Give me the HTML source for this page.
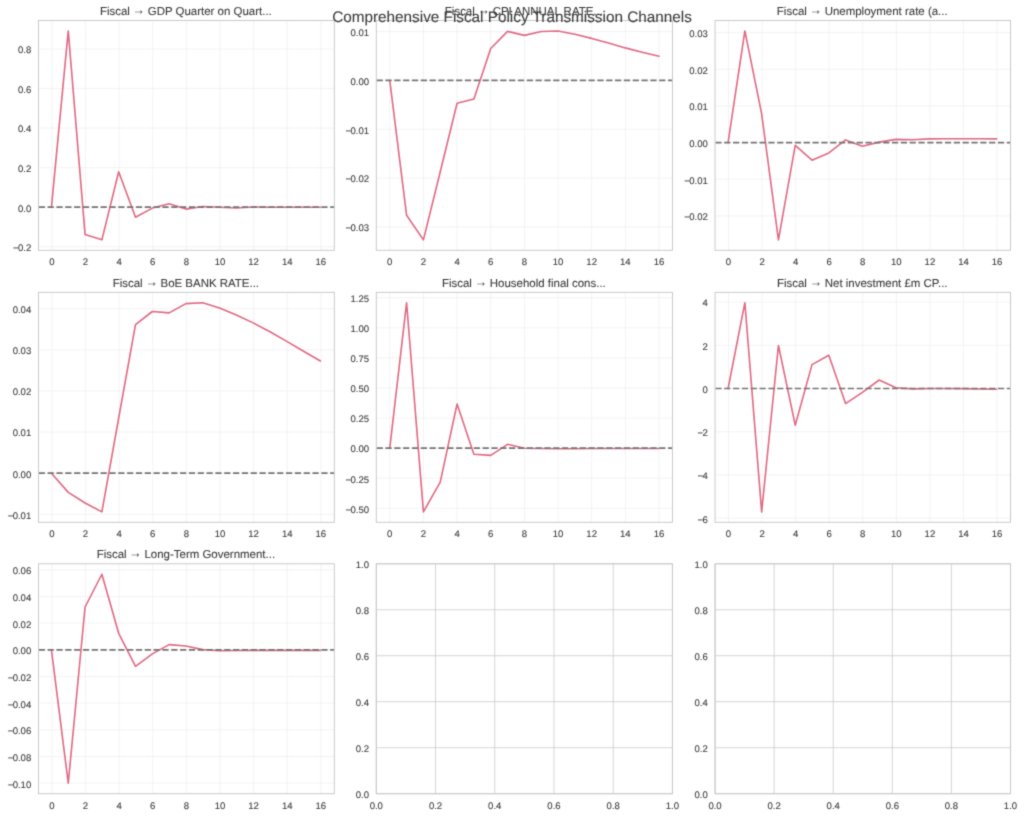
<!DOCTYPE html>
<html lang="en"><head><meta charset="utf-8"><title>Comprehensive Fiscal Policy Transmission Channels</title>
<style>html,body{margin:0;padding:0;background:#fff;}
body{width:1024px;height:817px;overflow:hidden;}
svg{display:block;}
text{font-family:"Liberation Sans", Arial, sans-serif;fill:#3c3c3c;stroke:#3c3c3c;stroke-width:0.1px;text-rendering:geometricPrecision;}
.tk{font-size:9.56px;}
.ti{font-size:11.47px;}
.sup{font-size:15.3px;}</style></head>
<body>
<svg width="1024" height="817" viewBox="0 0 1024 817">
<defs><filter id="soft" filterUnits="userSpaceOnUse" x="0" y="0" width="1024" height="817" color-interpolation-filters="sRGB"><feConvolveMatrix order="3" kernelMatrix="0.025 0.1 0.025 0.1 0.5 0.1 0.025 0.1 0.025" divisor="1" edgeMode="duplicate" preserveAlpha="true"/></filter></defs>
<g filter="url(#soft)">
<rect x="0" y="0" width="1024" height="817" fill="#ffffff"/>
<g><line x1="51.9" y1="20.5" x2="51.9" y2="250.3" stroke="#efefef" stroke-width="0.77"/>
<line x1="85.52" y1="20.5" x2="85.52" y2="250.3" stroke="#efefef" stroke-width="0.77"/>
<line x1="119.14" y1="20.5" x2="119.14" y2="250.3" stroke="#efefef" stroke-width="0.77"/>
<line x1="152.76" y1="20.5" x2="152.76" y2="250.3" stroke="#efefef" stroke-width="0.77"/>
<line x1="186.38" y1="20.5" x2="186.38" y2="250.3" stroke="#efefef" stroke-width="0.77"/>
<line x1="219.99" y1="20.5" x2="219.99" y2="250.3" stroke="#efefef" stroke-width="0.77"/>
<line x1="253.61" y1="20.5" x2="253.61" y2="250.3" stroke="#efefef" stroke-width="0.77"/>
<line x1="287.23" y1="20.5" x2="287.23" y2="250.3" stroke="#efefef" stroke-width="0.77"/>
<line x1="320.85" y1="20.5" x2="320.85" y2="250.3" stroke="#efefef" stroke-width="0.77"/>
<line x1="38.45" y1="246.74" x2="334.3" y2="246.74" stroke="#efefef" stroke-width="0.77"/>
<line x1="38.45" y1="207.2" x2="334.3" y2="207.2" stroke="#efefef" stroke-width="0.77"/>
<line x1="38.45" y1="167.66" x2="334.3" y2="167.66" stroke="#efefef" stroke-width="0.77"/>
<line x1="38.45" y1="128.12" x2="334.3" y2="128.12" stroke="#efefef" stroke-width="0.77"/>
<line x1="38.45" y1="88.58" x2="334.3" y2="88.58" stroke="#efefef" stroke-width="0.77"/>
<line x1="38.45" y1="49.04" x2="334.3" y2="49.04" stroke="#efefef" stroke-width="0.77"/>
<polyline points="51.45,207.2 68.26,30.95 85.07,234.6 101.88,239.85 118.69,171.8 135.5,217.2 152.31,208.1 169.12,203.7 185.92,209.1 202.73,206.5 219.54,207.2 236.35,208 253.16,207 269.97,207.2 286.78,207.2 303.59,207.2 320.4,207.2" fill="none" stroke="#e06882" stroke-width="1.6" stroke-linejoin="round" stroke-linecap="round"/>
<line x1="38.45" y1="207.2" x2="334.3" y2="207.2" stroke="#747474" stroke-width="1.67" stroke-dasharray="6.16 2.67" stroke-dashoffset="-0.35"/>
<rect x="38.45" y="20.5" width="295.85" height="229.8" fill="none" stroke="#c8c8c8" stroke-width="0.96"/>
<text x="51.9" y="265.3" text-anchor="middle" class="tk">0</text>
<text x="85.52" y="265.3" text-anchor="middle" class="tk">2</text>
<text x="119.14" y="265.3" text-anchor="middle" class="tk">4</text>
<text x="152.76" y="265.3" text-anchor="middle" class="tk">6</text>
<text x="186.38" y="265.3" text-anchor="middle" class="tk">8</text>
<text x="219.99" y="265.3" text-anchor="middle" class="tk">10</text>
<text x="253.61" y="265.3" text-anchor="middle" class="tk">12</text>
<text x="287.23" y="265.3" text-anchor="middle" class="tk">14</text>
<text x="320.85" y="265.3" text-anchor="middle" class="tk">16</text>
<text x="31.25" y="251.09" text-anchor="end" class="tk">−<tspan dx="-0.6">0.2</tspan></text>
<text x="31.25" y="211.55" text-anchor="end" class="tk">0.0</text>
<text x="31.25" y="172.01" text-anchor="end" class="tk">0.2</text>
<text x="31.25" y="132.47" text-anchor="end" class="tk">0.4</text>
<text x="31.25" y="92.93" text-anchor="end" class="tk">0.6</text>
<text x="31.25" y="53.39" text-anchor="end" class="tk">0.8</text>
<text x="185.88" y="14.9" text-anchor="middle" class="ti">Fiscal <tspan dx="-0.46" dy="-1.25" style="font-size:12.4px">→</tspan><tspan dx="-0.47" dy="1.25"> GDP Quarter on Quart...</tspan></text></g>
<g><line x1="389.76" y1="20.5" x2="389.76" y2="250.3" stroke="#efefef" stroke-width="0.77"/>
<line x1="423.41" y1="20.5" x2="423.41" y2="250.3" stroke="#efefef" stroke-width="0.77"/>
<line x1="457.07" y1="20.5" x2="457.07" y2="250.3" stroke="#efefef" stroke-width="0.77"/>
<line x1="490.72" y1="20.5" x2="490.72" y2="250.3" stroke="#efefef" stroke-width="0.77"/>
<line x1="524.38" y1="20.5" x2="524.38" y2="250.3" stroke="#efefef" stroke-width="0.77"/>
<line x1="558.03" y1="20.5" x2="558.03" y2="250.3" stroke="#efefef" stroke-width="0.77"/>
<line x1="591.68" y1="20.5" x2="591.68" y2="250.3" stroke="#efefef" stroke-width="0.77"/>
<line x1="625.34" y1="20.5" x2="625.34" y2="250.3" stroke="#efefef" stroke-width="0.77"/>
<line x1="658.99" y1="20.5" x2="658.99" y2="250.3" stroke="#efefef" stroke-width="0.77"/>
<line x1="376.3" y1="226.99" x2="672.45" y2="226.99" stroke="#efefef" stroke-width="0.77"/>
<line x1="376.3" y1="178.14" x2="672.45" y2="178.14" stroke="#efefef" stroke-width="0.77"/>
<line x1="376.3" y1="129.29" x2="672.45" y2="129.29" stroke="#efefef" stroke-width="0.77"/>
<line x1="376.3" y1="80.44" x2="672.45" y2="80.44" stroke="#efefef" stroke-width="0.77"/>
<line x1="376.3" y1="31.59" x2="672.45" y2="31.59" stroke="#efefef" stroke-width="0.77"/>
<polyline points="389.76,80.44 406.59,215.3 423.41,239.85 440.24,171.8 457.07,103.3 473.89,99 490.72,48.5 507.55,31.4 524.38,35.4 541.2,31.5 558.03,30.95 574.86,34.2 591.68,38.4 608.51,43.1 625.34,47.9 642.16,52.2 658.99,56.3" fill="none" stroke="#e06882" stroke-width="1.6" stroke-linejoin="round" stroke-linecap="round"/>
<line x1="376.3" y1="80.44" x2="672.45" y2="80.44" stroke="#747474" stroke-width="1.67" stroke-dasharray="6.16 2.67" stroke-dashoffset="-0.35"/>
<rect x="376.3" y="20.5" width="296.15" height="229.8" fill="none" stroke="#c8c8c8" stroke-width="0.96"/>
<text x="389.76" y="265.3" text-anchor="middle" class="tk">0</text>
<text x="423.41" y="265.3" text-anchor="middle" class="tk">2</text>
<text x="457.07" y="265.3" text-anchor="middle" class="tk">4</text>
<text x="490.72" y="265.3" text-anchor="middle" class="tk">6</text>
<text x="524.38" y="265.3" text-anchor="middle" class="tk">8</text>
<text x="558.03" y="265.3" text-anchor="middle" class="tk">10</text>
<text x="591.68" y="265.3" text-anchor="middle" class="tk">12</text>
<text x="625.34" y="265.3" text-anchor="middle" class="tk">14</text>
<text x="658.99" y="265.3" text-anchor="middle" class="tk">16</text>
<text x="369.1" y="231.34" text-anchor="end" class="tk">−<tspan dx="-0.6">0.03</tspan></text>
<text x="369.1" y="182.49" text-anchor="end" class="tk">−<tspan dx="-0.6">0.02</tspan></text>
<text x="369.1" y="133.64" text-anchor="end" class="tk">−<tspan dx="-0.6">0.01</tspan></text>
<text x="369.1" y="84.79" text-anchor="end" class="tk">0.00</text>
<text x="369.1" y="35.94" text-anchor="end" class="tk">0.01</text>
<text x="523.88" y="14.9" text-anchor="middle" class="ti">Fiscal <tspan dx="-0.46" dy="-1.25" style="font-size:12.4px">→</tspan><tspan dx="-0.47" dy="1.25"> CPI ANNUAL RATE...</tspan></text></g>
<g><line x1="728.48" y1="20.5" x2="728.48" y2="250.3" stroke="#efefef" stroke-width="0.77"/>
<line x1="762.05" y1="20.5" x2="762.05" y2="250.3" stroke="#efefef" stroke-width="0.77"/>
<line x1="795.63" y1="20.5" x2="795.63" y2="250.3" stroke="#efefef" stroke-width="0.77"/>
<line x1="829.2" y1="20.5" x2="829.2" y2="250.3" stroke="#efefef" stroke-width="0.77"/>
<line x1="862.77" y1="20.5" x2="862.77" y2="250.3" stroke="#efefef" stroke-width="0.77"/>
<line x1="896.35" y1="20.5" x2="896.35" y2="250.3" stroke="#efefef" stroke-width="0.77"/>
<line x1="929.92" y1="20.5" x2="929.92" y2="250.3" stroke="#efefef" stroke-width="0.77"/>
<line x1="963.5" y1="20.5" x2="963.5" y2="250.3" stroke="#efefef" stroke-width="0.77"/>
<line x1="997.07" y1="20.5" x2="997.07" y2="250.3" stroke="#efefef" stroke-width="0.77"/>
<line x1="715.05" y1="215.85" x2="1010.5" y2="215.85" stroke="#efefef" stroke-width="0.77"/>
<line x1="715.05" y1="179.21" x2="1010.5" y2="179.21" stroke="#efefef" stroke-width="0.77"/>
<line x1="715.05" y1="142.56" x2="1010.5" y2="142.56" stroke="#efefef" stroke-width="0.77"/>
<line x1="715.05" y1="105.91" x2="1010.5" y2="105.91" stroke="#efefef" stroke-width="0.77"/>
<line x1="715.05" y1="69.27" x2="1010.5" y2="69.27" stroke="#efefef" stroke-width="0.77"/>
<line x1="715.05" y1="32.62" x2="1010.5" y2="32.62" stroke="#efefef" stroke-width="0.77"/>
<polyline points="728.08,142.56 744.87,30.95 761.65,113.9 778.44,239.85 795.23,145.3 812.01,160.2 828.8,152.9 845.59,139.9 862.38,146.2 879.16,142.1 895.95,139.4 912.74,139.8 929.52,138.9 946.31,138.7 963.1,138.7 979.88,138.7 996.67,138.9" fill="none" stroke="#e06882" stroke-width="1.6" stroke-linejoin="round" stroke-linecap="round"/>
<line x1="715.05" y1="142.56" x2="1010.5" y2="142.56" stroke="#747474" stroke-width="1.67" stroke-dasharray="6.16 2.67" stroke-dashoffset="-0.35"/>
<rect x="715.05" y="20.5" width="295.45" height="229.8" fill="none" stroke="#c8c8c8" stroke-width="0.96"/>
<text x="728.48" y="265.3" text-anchor="middle" class="tk">0</text>
<text x="762.05" y="265.3" text-anchor="middle" class="tk">2</text>
<text x="795.63" y="265.3" text-anchor="middle" class="tk">4</text>
<text x="829.2" y="265.3" text-anchor="middle" class="tk">6</text>
<text x="862.77" y="265.3" text-anchor="middle" class="tk">8</text>
<text x="896.35" y="265.3" text-anchor="middle" class="tk">10</text>
<text x="929.92" y="265.3" text-anchor="middle" class="tk">12</text>
<text x="963.5" y="265.3" text-anchor="middle" class="tk">14</text>
<text x="997.07" y="265.3" text-anchor="middle" class="tk">16</text>
<text x="707.85" y="220.2" text-anchor="end" class="tk">−<tspan dx="-0.6">0.02</tspan></text>
<text x="707.85" y="183.56" text-anchor="end" class="tk">−<tspan dx="-0.6">0.01</tspan></text>
<text x="707.85" y="146.91" text-anchor="end" class="tk">0.00</text>
<text x="707.85" y="110.26" text-anchor="end" class="tk">0.01</text>
<text x="707.85" y="73.62" text-anchor="end" class="tk">0.02</text>
<text x="707.85" y="36.97" text-anchor="end" class="tk">0.03</text>
<text x="862.27" y="14.9" text-anchor="middle" class="ti">Fiscal <tspan dx="-0.46" dy="-1.25" style="font-size:12.4px">→</tspan><tspan dx="-0.47" dy="1.25"> Unemployment rate (a...</tspan></text></g>
<g><line x1="51.9" y1="292.35" x2="51.9" y2="522.3" stroke="#efefef" stroke-width="0.77"/>
<line x1="85.52" y1="292.35" x2="85.52" y2="522.3" stroke="#efefef" stroke-width="0.77"/>
<line x1="119.14" y1="292.35" x2="119.14" y2="522.3" stroke="#efefef" stroke-width="0.77"/>
<line x1="152.76" y1="292.35" x2="152.76" y2="522.3" stroke="#efefef" stroke-width="0.77"/>
<line x1="186.38" y1="292.35" x2="186.38" y2="522.3" stroke="#efefef" stroke-width="0.77"/>
<line x1="219.99" y1="292.35" x2="219.99" y2="522.3" stroke="#efefef" stroke-width="0.77"/>
<line x1="253.61" y1="292.35" x2="253.61" y2="522.3" stroke="#efefef" stroke-width="0.77"/>
<line x1="287.23" y1="292.35" x2="287.23" y2="522.3" stroke="#efefef" stroke-width="0.77"/>
<line x1="320.85" y1="292.35" x2="320.85" y2="522.3" stroke="#efefef" stroke-width="0.77"/>
<line x1="38.45" y1="514.32" x2="334.3" y2="514.32" stroke="#efefef" stroke-width="0.77"/>
<line x1="38.45" y1="473.2" x2="334.3" y2="473.2" stroke="#efefef" stroke-width="0.77"/>
<line x1="38.45" y1="432.08" x2="334.3" y2="432.08" stroke="#efefef" stroke-width="0.77"/>
<line x1="38.45" y1="390.96" x2="334.3" y2="390.96" stroke="#efefef" stroke-width="0.77"/>
<line x1="38.45" y1="349.84" x2="334.3" y2="349.84" stroke="#efefef" stroke-width="0.77"/>
<line x1="38.45" y1="308.72" x2="334.3" y2="308.72" stroke="#efefef" stroke-width="0.77"/>
<polyline points="51.45,473.2 68.26,492.4 85.07,503 101.88,511.85 118.69,418 135.5,324.6 152.31,311.5 169.12,312.9 185.92,303.6 202.73,302.8 219.54,308.1 236.35,315 253.16,322.9 269.97,331.7 286.78,341.4 303.59,351.2 320.4,361" fill="none" stroke="#e06882" stroke-width="1.6" stroke-linejoin="round" stroke-linecap="round"/>
<line x1="38.45" y1="473.2" x2="334.3" y2="473.2" stroke="#747474" stroke-width="1.67" stroke-dasharray="6.16 2.67" stroke-dashoffset="-0.35"/>
<rect x="38.45" y="292.35" width="295.85" height="229.95" fill="none" stroke="#c8c8c8" stroke-width="0.96"/>
<text x="51.9" y="537.3" text-anchor="middle" class="tk">0</text>
<text x="85.52" y="537.3" text-anchor="middle" class="tk">2</text>
<text x="119.14" y="537.3" text-anchor="middle" class="tk">4</text>
<text x="152.76" y="537.3" text-anchor="middle" class="tk">6</text>
<text x="186.38" y="537.3" text-anchor="middle" class="tk">8</text>
<text x="219.99" y="537.3" text-anchor="middle" class="tk">10</text>
<text x="253.61" y="537.3" text-anchor="middle" class="tk">12</text>
<text x="287.23" y="537.3" text-anchor="middle" class="tk">14</text>
<text x="320.85" y="537.3" text-anchor="middle" class="tk">16</text>
<text x="31.25" y="518.67" text-anchor="end" class="tk">−<tspan dx="-0.6">0.01</tspan></text>
<text x="31.25" y="477.55" text-anchor="end" class="tk">0.00</text>
<text x="31.25" y="436.43" text-anchor="end" class="tk">0.01</text>
<text x="31.25" y="395.31" text-anchor="end" class="tk">0.02</text>
<text x="31.25" y="354.19" text-anchor="end" class="tk">0.03</text>
<text x="31.25" y="313.07" text-anchor="end" class="tk">0.04</text>
<text x="185.88" y="286.75" text-anchor="middle" class="ti">Fiscal <tspan dx="-0.46" dy="-1.25" style="font-size:12.4px">→</tspan><tspan dx="-0.47" dy="1.25"> BoE BANK RATE...</tspan></text></g>
<g><line x1="389.76" y1="292.35" x2="389.76" y2="522.3" stroke="#efefef" stroke-width="0.77"/>
<line x1="423.41" y1="292.35" x2="423.41" y2="522.3" stroke="#efefef" stroke-width="0.77"/>
<line x1="457.07" y1="292.35" x2="457.07" y2="522.3" stroke="#efefef" stroke-width="0.77"/>
<line x1="490.72" y1="292.35" x2="490.72" y2="522.3" stroke="#efefef" stroke-width="0.77"/>
<line x1="524.38" y1="292.35" x2="524.38" y2="522.3" stroke="#efefef" stroke-width="0.77"/>
<line x1="558.03" y1="292.35" x2="558.03" y2="522.3" stroke="#efefef" stroke-width="0.77"/>
<line x1="591.68" y1="292.35" x2="591.68" y2="522.3" stroke="#efefef" stroke-width="0.77"/>
<line x1="625.34" y1="292.35" x2="625.34" y2="522.3" stroke="#efefef" stroke-width="0.77"/>
<line x1="658.99" y1="292.35" x2="658.99" y2="522.3" stroke="#efefef" stroke-width="0.77"/>
<line x1="376.3" y1="508.25" x2="672.45" y2="508.25" stroke="#efefef" stroke-width="0.77"/>
<line x1="376.3" y1="478.18" x2="672.45" y2="478.18" stroke="#efefef" stroke-width="0.77"/>
<line x1="376.3" y1="448.1" x2="672.45" y2="448.1" stroke="#efefef" stroke-width="0.77"/>
<line x1="376.3" y1="418.03" x2="672.45" y2="418.03" stroke="#efefef" stroke-width="0.77"/>
<line x1="376.3" y1="387.95" x2="672.45" y2="387.95" stroke="#efefef" stroke-width="0.77"/>
<line x1="376.3" y1="357.88" x2="672.45" y2="357.88" stroke="#efefef" stroke-width="0.77"/>
<line x1="376.3" y1="327.8" x2="672.45" y2="327.8" stroke="#efefef" stroke-width="0.77"/>
<line x1="376.3" y1="297.73" x2="672.45" y2="297.73" stroke="#efefef" stroke-width="0.77"/>
<polyline points="389.76,448.1 406.59,302.8 423.41,511.85 440.24,482.1 457.07,404 473.89,454.3 490.72,455.4 507.55,444.3 524.38,448.3 541.2,448.5 558.03,448.7 574.86,448.8 591.68,448.5 608.51,448.5 625.34,448.5 642.16,448.5 658.99,448.5" fill="none" stroke="#e06882" stroke-width="1.6" stroke-linejoin="round" stroke-linecap="round"/>
<line x1="376.3" y1="448.1" x2="672.45" y2="448.1" stroke="#747474" stroke-width="1.67" stroke-dasharray="6.16 2.67" stroke-dashoffset="-0.35"/>
<rect x="376.3" y="292.35" width="296.15" height="229.95" fill="none" stroke="#c8c8c8" stroke-width="0.96"/>
<text x="389.76" y="537.3" text-anchor="middle" class="tk">0</text>
<text x="423.41" y="537.3" text-anchor="middle" class="tk">2</text>
<text x="457.07" y="537.3" text-anchor="middle" class="tk">4</text>
<text x="490.72" y="537.3" text-anchor="middle" class="tk">6</text>
<text x="524.38" y="537.3" text-anchor="middle" class="tk">8</text>
<text x="558.03" y="537.3" text-anchor="middle" class="tk">10</text>
<text x="591.68" y="537.3" text-anchor="middle" class="tk">12</text>
<text x="625.34" y="537.3" text-anchor="middle" class="tk">14</text>
<text x="658.99" y="537.3" text-anchor="middle" class="tk">16</text>
<text x="369.1" y="512.6" text-anchor="end" class="tk">−<tspan dx="-0.6">0.50</tspan></text>
<text x="369.1" y="482.53" text-anchor="end" class="tk">−<tspan dx="-0.6">0.25</tspan></text>
<text x="369.1" y="452.45" text-anchor="end" class="tk">0.00</text>
<text x="369.1" y="422.38" text-anchor="end" class="tk">0.25</text>
<text x="369.1" y="392.3" text-anchor="end" class="tk">0.50</text>
<text x="369.1" y="362.23" text-anchor="end" class="tk">0.75</text>
<text x="369.1" y="332.15" text-anchor="end" class="tk">1.00</text>
<text x="369.1" y="302.08" text-anchor="end" class="tk">1.25</text>
<text x="523.88" y="286.75" text-anchor="middle" class="ti">Fiscal <tspan dx="-0.46" dy="-1.25" style="font-size:12.4px">→</tspan><tspan dx="-0.47" dy="1.25"> Household final cons...</tspan></text></g>
<g><line x1="728.48" y1="292.35" x2="728.48" y2="522.3" stroke="#efefef" stroke-width="0.77"/>
<line x1="762.05" y1="292.35" x2="762.05" y2="522.3" stroke="#efefef" stroke-width="0.77"/>
<line x1="795.63" y1="292.35" x2="795.63" y2="522.3" stroke="#efefef" stroke-width="0.77"/>
<line x1="829.2" y1="292.35" x2="829.2" y2="522.3" stroke="#efefef" stroke-width="0.77"/>
<line x1="862.77" y1="292.35" x2="862.77" y2="522.3" stroke="#efefef" stroke-width="0.77"/>
<line x1="896.35" y1="292.35" x2="896.35" y2="522.3" stroke="#efefef" stroke-width="0.77"/>
<line x1="929.92" y1="292.35" x2="929.92" y2="522.3" stroke="#efefef" stroke-width="0.77"/>
<line x1="963.5" y1="292.35" x2="963.5" y2="522.3" stroke="#efefef" stroke-width="0.77"/>
<line x1="997.07" y1="292.35" x2="997.07" y2="522.3" stroke="#efefef" stroke-width="0.77"/>
<line x1="715.05" y1="518.16" x2="1010.5" y2="518.16" stroke="#efefef" stroke-width="0.77"/>
<line x1="715.05" y1="474.94" x2="1010.5" y2="474.94" stroke="#efefef" stroke-width="0.77"/>
<line x1="715.05" y1="431.72" x2="1010.5" y2="431.72" stroke="#efefef" stroke-width="0.77"/>
<line x1="715.05" y1="388.5" x2="1010.5" y2="388.5" stroke="#efefef" stroke-width="0.77"/>
<line x1="715.05" y1="345.28" x2="1010.5" y2="345.28" stroke="#efefef" stroke-width="0.77"/>
<line x1="715.05" y1="302.06" x2="1010.5" y2="302.06" stroke="#efefef" stroke-width="0.77"/>
<polyline points="728.08,388.5 744.87,302.8 761.65,511.85 778.44,345.5 795.23,425.2 812.01,364.6 828.8,355.3 845.59,403.6 862.38,392.3 879.16,380 895.95,387.8 912.74,388.9 929.52,388.5 946.31,388.5 963.1,388.6 979.88,389 996.67,389.3" fill="none" stroke="#e06882" stroke-width="1.6" stroke-linejoin="round" stroke-linecap="round"/>
<line x1="715.05" y1="388.5" x2="1010.5" y2="388.5" stroke="#747474" stroke-width="1.67" stroke-dasharray="6.16 2.67" stroke-dashoffset="-0.35"/>
<rect x="715.05" y="292.35" width="295.45" height="229.95" fill="none" stroke="#c8c8c8" stroke-width="0.96"/>
<text x="728.48" y="537.3" text-anchor="middle" class="tk">0</text>
<text x="762.05" y="537.3" text-anchor="middle" class="tk">2</text>
<text x="795.63" y="537.3" text-anchor="middle" class="tk">4</text>
<text x="829.2" y="537.3" text-anchor="middle" class="tk">6</text>
<text x="862.77" y="537.3" text-anchor="middle" class="tk">8</text>
<text x="896.35" y="537.3" text-anchor="middle" class="tk">10</text>
<text x="929.92" y="537.3" text-anchor="middle" class="tk">12</text>
<text x="963.5" y="537.3" text-anchor="middle" class="tk">14</text>
<text x="997.07" y="537.3" text-anchor="middle" class="tk">16</text>
<text x="707.85" y="522.51" text-anchor="end" class="tk">−<tspan dx="-0.6">6</tspan></text>
<text x="707.85" y="479.29" text-anchor="end" class="tk">−<tspan dx="-0.6">4</tspan></text>
<text x="707.85" y="436.07" text-anchor="end" class="tk">−<tspan dx="-0.6">2</tspan></text>
<text x="707.85" y="392.85" text-anchor="end" class="tk">0</text>
<text x="707.85" y="349.63" text-anchor="end" class="tk">2</text>
<text x="707.85" y="306.41" text-anchor="end" class="tk">4</text>
<text x="862.27" y="286.75" text-anchor="middle" class="ti">Fiscal <tspan dx="-0.46" dy="-1.25" style="font-size:12.4px">→</tspan><tspan dx="-0.47" dy="1.25"> Net investment £m CP...</tspan></text></g>
<g><line x1="51.9" y1="563.8" x2="51.9" y2="793.7" stroke="#efefef" stroke-width="0.77"/>
<line x1="85.52" y1="563.8" x2="85.52" y2="793.7" stroke="#efefef" stroke-width="0.77"/>
<line x1="119.14" y1="563.8" x2="119.14" y2="793.7" stroke="#efefef" stroke-width="0.77"/>
<line x1="152.76" y1="563.8" x2="152.76" y2="793.7" stroke="#efefef" stroke-width="0.77"/>
<line x1="186.38" y1="563.8" x2="186.38" y2="793.7" stroke="#efefef" stroke-width="0.77"/>
<line x1="219.99" y1="563.8" x2="219.99" y2="793.7" stroke="#efefef" stroke-width="0.77"/>
<line x1="253.61" y1="563.8" x2="253.61" y2="793.7" stroke="#efefef" stroke-width="0.77"/>
<line x1="287.23" y1="563.8" x2="287.23" y2="793.7" stroke="#efefef" stroke-width="0.77"/>
<line x1="320.85" y1="563.8" x2="320.85" y2="793.7" stroke="#efefef" stroke-width="0.77"/>
<line x1="38.45" y1="783.15" x2="334.3" y2="783.15" stroke="#efefef" stroke-width="0.77"/>
<line x1="38.45" y1="756.49" x2="334.3" y2="756.49" stroke="#efefef" stroke-width="0.77"/>
<line x1="38.45" y1="729.83" x2="334.3" y2="729.83" stroke="#efefef" stroke-width="0.77"/>
<line x1="38.45" y1="703.17" x2="334.3" y2="703.17" stroke="#efefef" stroke-width="0.77"/>
<line x1="38.45" y1="676.51" x2="334.3" y2="676.51" stroke="#efefef" stroke-width="0.77"/>
<line x1="38.45" y1="649.85" x2="334.3" y2="649.85" stroke="#efefef" stroke-width="0.77"/>
<line x1="38.45" y1="623.19" x2="334.3" y2="623.19" stroke="#efefef" stroke-width="0.77"/>
<line x1="38.45" y1="596.53" x2="334.3" y2="596.53" stroke="#efefef" stroke-width="0.77"/>
<line x1="38.45" y1="569.87" x2="334.3" y2="569.87" stroke="#efefef" stroke-width="0.77"/>
<polyline points="51.45,649.85 68.26,783.25 85.07,607 101.88,574.25 118.69,633.3 135.5,666.3 152.31,653.9 169.12,644.6 185.92,646 202.73,649.6 219.54,650.8 236.35,650.5 253.16,650.4 269.97,650.4 286.78,650.4 303.59,650.4 320.4,650.4" fill="none" stroke="#e06882" stroke-width="1.6" stroke-linejoin="round" stroke-linecap="round"/>
<line x1="38.45" y1="649.85" x2="334.3" y2="649.85" stroke="#747474" stroke-width="1.67" stroke-dasharray="6.16 2.67" stroke-dashoffset="-0.35"/>
<rect x="38.45" y="563.8" width="295.85" height="229.9" fill="none" stroke="#c8c8c8" stroke-width="0.96"/>
<text x="51.9" y="808.7" text-anchor="middle" class="tk">0</text>
<text x="85.52" y="808.7" text-anchor="middle" class="tk">2</text>
<text x="119.14" y="808.7" text-anchor="middle" class="tk">4</text>
<text x="152.76" y="808.7" text-anchor="middle" class="tk">6</text>
<text x="186.38" y="808.7" text-anchor="middle" class="tk">8</text>
<text x="219.99" y="808.7" text-anchor="middle" class="tk">10</text>
<text x="253.61" y="808.7" text-anchor="middle" class="tk">12</text>
<text x="287.23" y="808.7" text-anchor="middle" class="tk">14</text>
<text x="320.85" y="808.7" text-anchor="middle" class="tk">16</text>
<text x="31.25" y="787.5" text-anchor="end" class="tk">−<tspan dx="-0.6">0.10</tspan></text>
<text x="31.25" y="760.84" text-anchor="end" class="tk">−<tspan dx="-0.6">0.08</tspan></text>
<text x="31.25" y="734.18" text-anchor="end" class="tk">−<tspan dx="-0.6">0.06</tspan></text>
<text x="31.25" y="707.52" text-anchor="end" class="tk">−<tspan dx="-0.6">0.04</tspan></text>
<text x="31.25" y="680.86" text-anchor="end" class="tk">−<tspan dx="-0.6">0.02</tspan></text>
<text x="31.25" y="654.2" text-anchor="end" class="tk">0.00</text>
<text x="31.25" y="627.54" text-anchor="end" class="tk">0.02</text>
<text x="31.25" y="600.88" text-anchor="end" class="tk">0.04</text>
<text x="31.25" y="574.22" text-anchor="end" class="tk">0.06</text>
<text x="185.88" y="558.2" text-anchor="middle" class="ti">Fiscal <tspan dx="-0.46" dy="-1.25" style="font-size:12.4px">→</tspan><tspan dx="-0.47" dy="1.25"> Long-Term Government...</tspan></text></g>
<g><line x1="376.3" y1="563.8" x2="376.3" y2="793.7" stroke="#c8c8c8" stroke-width="0.77"/>
<line x1="376.3" y1="793.7" x2="672.45" y2="793.7" stroke="#c8c8c8" stroke-width="0.77"/>
<line x1="435.53" y1="563.8" x2="435.53" y2="793.7" stroke="#c8c8c8" stroke-width="0.77"/>
<line x1="376.3" y1="747.72" x2="672.45" y2="747.72" stroke="#c8c8c8" stroke-width="0.77"/>
<line x1="494.76" y1="563.8" x2="494.76" y2="793.7" stroke="#c8c8c8" stroke-width="0.77"/>
<line x1="376.3" y1="701.74" x2="672.45" y2="701.74" stroke="#c8c8c8" stroke-width="0.77"/>
<line x1="553.99" y1="563.8" x2="553.99" y2="793.7" stroke="#c8c8c8" stroke-width="0.77"/>
<line x1="376.3" y1="655.76" x2="672.45" y2="655.76" stroke="#c8c8c8" stroke-width="0.77"/>
<line x1="613.22" y1="563.8" x2="613.22" y2="793.7" stroke="#c8c8c8" stroke-width="0.77"/>
<line x1="376.3" y1="609.78" x2="672.45" y2="609.78" stroke="#c8c8c8" stroke-width="0.77"/>
<line x1="672.45" y1="563.8" x2="672.45" y2="793.7" stroke="#c8c8c8" stroke-width="0.77"/>
<line x1="376.3" y1="563.8" x2="672.45" y2="563.8" stroke="#c8c8c8" stroke-width="0.77"/>
<rect x="376.3" y="563.8" width="296.15" height="229.9" fill="none" stroke="#c8c8c8" stroke-width="0.96"/>
<text x="376.3" y="808.7" text-anchor="middle" class="tk">0.0</text>
<text x="435.53" y="808.7" text-anchor="middle" class="tk">0.2</text>
<text x="494.76" y="808.7" text-anchor="middle" class="tk">0.4</text>
<text x="553.99" y="808.7" text-anchor="middle" class="tk">0.6</text>
<text x="613.22" y="808.7" text-anchor="middle" class="tk">0.8</text>
<text x="672.45" y="808.7" text-anchor="middle" class="tk">1.0</text>
<text x="369.1" y="798.05" text-anchor="end" class="tk">0.0</text>
<text x="369.1" y="752.07" text-anchor="end" class="tk">0.2</text>
<text x="369.1" y="706.09" text-anchor="end" class="tk">0.4</text>
<text x="369.1" y="660.11" text-anchor="end" class="tk">0.6</text>
<text x="369.1" y="614.13" text-anchor="end" class="tk">0.8</text>
<text x="369.1" y="568.15" text-anchor="end" class="tk">1.0</text></g>
<g><line x1="715.05" y1="563.8" x2="715.05" y2="793.7" stroke="#c8c8c8" stroke-width="0.77"/>
<line x1="715.05" y1="793.7" x2="1010.5" y2="793.7" stroke="#c8c8c8" stroke-width="0.77"/>
<line x1="774.14" y1="563.8" x2="774.14" y2="793.7" stroke="#c8c8c8" stroke-width="0.77"/>
<line x1="715.05" y1="747.72" x2="1010.5" y2="747.72" stroke="#c8c8c8" stroke-width="0.77"/>
<line x1="833.23" y1="563.8" x2="833.23" y2="793.7" stroke="#c8c8c8" stroke-width="0.77"/>
<line x1="715.05" y1="701.74" x2="1010.5" y2="701.74" stroke="#c8c8c8" stroke-width="0.77"/>
<line x1="892.32" y1="563.8" x2="892.32" y2="793.7" stroke="#c8c8c8" stroke-width="0.77"/>
<line x1="715.05" y1="655.76" x2="1010.5" y2="655.76" stroke="#c8c8c8" stroke-width="0.77"/>
<line x1="951.41" y1="563.8" x2="951.41" y2="793.7" stroke="#c8c8c8" stroke-width="0.77"/>
<line x1="715.05" y1="609.78" x2="1010.5" y2="609.78" stroke="#c8c8c8" stroke-width="0.77"/>
<line x1="1010.5" y1="563.8" x2="1010.5" y2="793.7" stroke="#c8c8c8" stroke-width="0.77"/>
<line x1="715.05" y1="563.8" x2="1010.5" y2="563.8" stroke="#c8c8c8" stroke-width="0.77"/>
<rect x="715.05" y="563.8" width="295.45" height="229.9" fill="none" stroke="#c8c8c8" stroke-width="0.96"/>
<text x="715.05" y="808.7" text-anchor="middle" class="tk">0.0</text>
<text x="774.14" y="808.7" text-anchor="middle" class="tk">0.2</text>
<text x="833.23" y="808.7" text-anchor="middle" class="tk">0.4</text>
<text x="892.32" y="808.7" text-anchor="middle" class="tk">0.6</text>
<text x="951.41" y="808.7" text-anchor="middle" class="tk">0.8</text>
<text x="1010.5" y="808.7" text-anchor="middle" class="tk">1.0</text>
<text x="707.85" y="798.05" text-anchor="end" class="tk">0.0</text>
<text x="707.85" y="752.07" text-anchor="end" class="tk">0.2</text>
<text x="707.85" y="706.09" text-anchor="end" class="tk">0.4</text>
<text x="707.85" y="660.11" text-anchor="end" class="tk">0.6</text>
<text x="707.85" y="614.13" text-anchor="end" class="tk">0.8</text>
<text x="707.85" y="568.15" text-anchor="end" class="tk">1.0</text></g>
<text x="512.0" y="22.3" text-anchor="middle" class="sup">Comprehensive Fiscal Policy Transmission Channels</text>
</g>
</svg>
</body></html>
